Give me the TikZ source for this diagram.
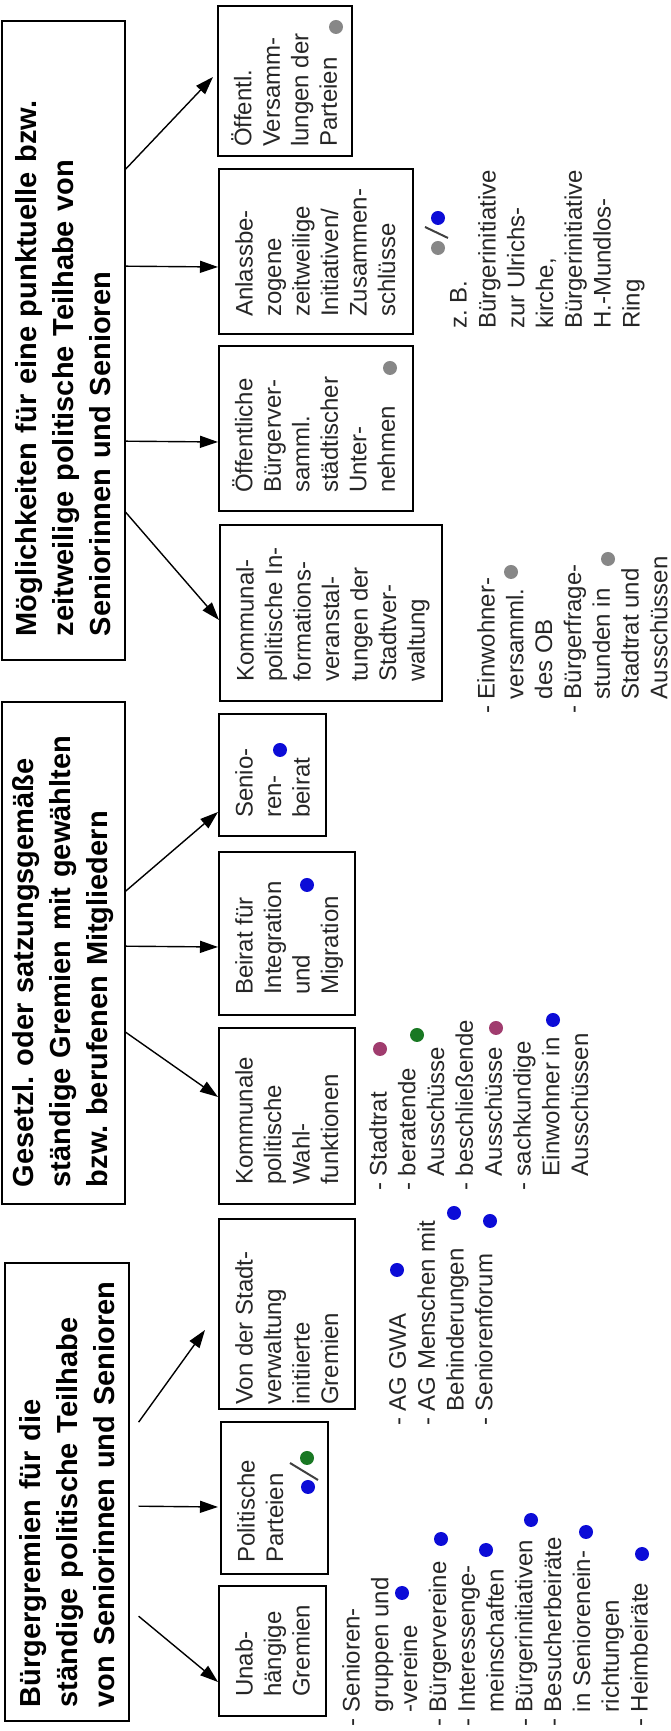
\documentclass[tikz,border=0pt]{standalone}
\usepackage{fontspec}
\setmainfont{Liberation Sans}
\usetikzlibrary{arrows.meta}
\frenchspacing

\definecolor{punktblau}{RGB}{12,12,215}
\definecolor{punktgruen}{RGB}{25,120,35}
\definecolor{punktrot}{RGB}{160,60,110}
\definecolor{punktgrau}{RGB}{135,135,135}
\newcommand{\einr}{\hphantom{-~}}

\begin{document}
\begin{tikzpicture}[x=1pt, y=1pt, rotate=90, transform shape,
		titel/.style={draw, line width=1.6pt, anchor=north west, align=left, inner ysep=0pt,
			minimum height=124, font=\fontsize{29}{37}\selectfont\bfseries},
		kasten/.style={draw, line width=1.6pt, anchor=north west, inner sep=0pt},
		ktext/.style={anchor=north west, align=left, inner sep=0pt, text=black!85,
			font=\fontsize{24}{28.5}\selectfont},
		liste/.style={ktext, font=\fontsize{24}{28.8}\selectfont},
		pfeil/.style={-{Triangle[length=18pt,width=12pt]}, line width=1.4pt},
		schraeg/.style={line width=2pt, black!75},
		]
	
	\useasboundingbox (0,0) rectangle (1731,-671);
	
	% Spalte 1: Buergergremien
	\node[titel, text width=430, inner xsep=14] (t1) at (9,-4)
	{Bürgergremien für die\\ständige politische Teilhabe\\von Seniorinnen und Senioren};
	
	\node[kasten, minimum width=130, minimum height=107] (ug) at (14,-218) {};
	\node[ktext] at ([shift={(20,-17)}]ug.north west) {Unab-\\hängige\\Gremien};
	\node[kasten, minimum width=152, minimum height=107] (pp) at (156,-220) {};
	\node[ktext] at ([shift={(12,-17)}]pp.north west) {Politische\\Parteien};
	\node[kasten, minimum width=190, minimum height=136] (vs) at (321,-218) {};
	\node[ktext] at ([shift={(5,-17)}]vs.north west) {Von der Stadt-\\verwaltung\\initiierte\\Gremien};
	
	\draw[pfeil] ([shift={(-124,-9)}]t1.south) -- ([shift={(35,0)}]ug.north west);
	\draw[pfeil] ([shift={(-14,-9)}]t1.south) -- ([shift={(68,2)}]pp.north west);
	\draw[pfeil] ([shift={(70,-9)}]t1.south) -- ([shift={(80,13)}]vs.north west);
	
	\node[liste] (ugl) at (4,-342) {- Senioren-\\\einr gruppen und\\\einr -vereine\\- Bürgervereine\\- Interessenge-\\\einr meinschaften\\- Bürgerinitiativen\\- Besucherbeiräte\\\einr in Seniorenein-\\\einr richtungen\\- Heimbeiräte};
	\node[liste] (vsl) at (305,-389) {- AG GWA\\- AG Menschen mit\\\einr Behinderungen\\- Seniorenforum};
	
	% Spalte 2: gesetzliche Gremien
	\node[titel, text width=468, inner xsep=17, minimum height=123] (t2) at (526,-1)
	{Gesetzl. oder satzungsgemäße\\ständige Gremien mit gewählten\\bzw. berufenen Mitgliedern};
	
	\node[kasten, minimum width=176, minimum height=136] (kw) at (526,-218) {};
	\node[ktext] at ([shift={(20,-17)}]kw.north west) {Kommunale\\politische\\Wahl-\\funktionen};
	\node[kasten, minimum width=163, minimum height=136] (bi) at (715,-218) {};
	\node[ktext] at ([shift={(21,-17)}]bi.north west) {Beirat für\\Integration\\und\\Migration};
	\node[kasten, minimum width=122, minimum height=107] (sb) at (894,-218) {};
	\node[ktext] at ([shift={(19,-17)}]sb.north west) {Senio-\\ren-\\beirat};
	
	\draw[pfeil] ([shift={(-79,0)}]t2.south) -- ([shift={(108,0)}]kw.north west);
	\draw[pfeil] ([shift={(7,0)}]t2.south) -- ([shift={(69,0)}]bi.north west);
	\draw[pfeil] ([shift={(62,0)}]t2.south) -- ([shift={(25,0)}]sb.north west);
	
	\node[liste] (kwl) at (540,-369) {- Stadtrat\\- beratende\\\einr Ausschüsse\\- beschließende\\\einr Ausschüsse\\- sachkundige\\\einr Einwohner in\\\einr Ausschüssen};
	
	% Spalte 3: punktuelle Teilhabe
	\node[titel, text width=591, inner xsep=24, minimum height=123] (t3) at (1070,-1)
	{Möglichkeiten für eine punktuelle bzw.\\zeitweilige politische Teilhabe von\\Seniorinnen und Senioren};
	
	\node[kasten, minimum width=176, minimum height=222] (ki) at (1029,-219) {};
	\node[ktext] at ([shift={(20,-17)}]ki.north west) {Kommunal-\\politische In-\\formations-\\veranstal-\\tungen der\\Stadtver-\\waltung};
	\node[kasten, minimum width=165, minimum height=194] (ob) at (1219,-218) {};
	\node[ktext] at ([shift={(19,-14)}]ob.north west) {Öffentliche\\Bürgerver-\\samml.\\städtischer\\Unter-\\nehmen};
	\node[kasten, minimum width=165, minimum height=194] (an) at (1396,-218) {};
	\node[ktext] at ([shift={(18,-17)}]an.north west) {Anlassbe-\\zogene\\zeitweilige\\Initiativen/\\Zusammen-\\schlüsse};
	\node[kasten, minimum width=150, minimum height=134] (ov) at (1574,-217) {};
	\node[ktext] at ([shift={(10,-14)}]ov.north west) {Öffentl.\\Versamm-\\lungen der\\Parteien};
	
	\draw[pfeil] ([shift={(-171.5,0)}]t3.south) -- ([shift={(82,0)}]ki.north west);
	\draw[pfeil] ([shift={(-100.5,0)}]t3.south) -- ([shift={(70,0)}]ob.north west);
	\draw[pfeil] ([shift={(74.5,0)}]t3.south) -- ([shift={(68,0)}]an.north west);
	\draw[pfeil] ([shift={(171.5,0)}]t3.south) -- ([shift={(80,4)}]ov.north west);
	
	\node[liste] (kil) at (1017,-477) {- Einwohner-\\\einr versamml.\\\einr des OB\\- Bürgerfrage-\\\einr stunden in\\\einr Stadtrat und\\\einr Ausschüssen};
	\node[liste] (anl) at (1402,-450) {z. B.\\Bürgerinitiative\\zur Ulrichs-\\kirche,\\Bürgerinitiative\\H.-Mundlos-\\Ring};
	
	% Punkte (Zuordnung)
	\fill[punktblau] (244,-308) circle (7);
	\draw[schraeg] (268,-290) -- (251,-318);
	\fill[punktgruen] (273,-307) circle (7);
	\foreach \px/\py in {138/402, 192/441, 181/486, 211/531, 199/586, 177/642,
		461/397, 518/454, 510/490, 711/553, 846/307, 981/280}
	\fill[punktblau] (\px,-\py) circle (7);
	\fill[punktrot] (682,-380) circle (7);
	\fill[punktgruen] (696,-417) circle (7);
	\fill[punktrot] (703,-496) circle (7);
	\foreach \px/\py in {1159/511, 1172/608, 1363/390, 1483/438, 1704/336}
	\fill[punktgrau] (\px,-\py) circle (7);
	\draw[schraeg] (1504,-425) -- (1493,-448);
	\fill[punktblau] (1513,-438) circle (7);
	
\end{tikzpicture}
\end{document}
